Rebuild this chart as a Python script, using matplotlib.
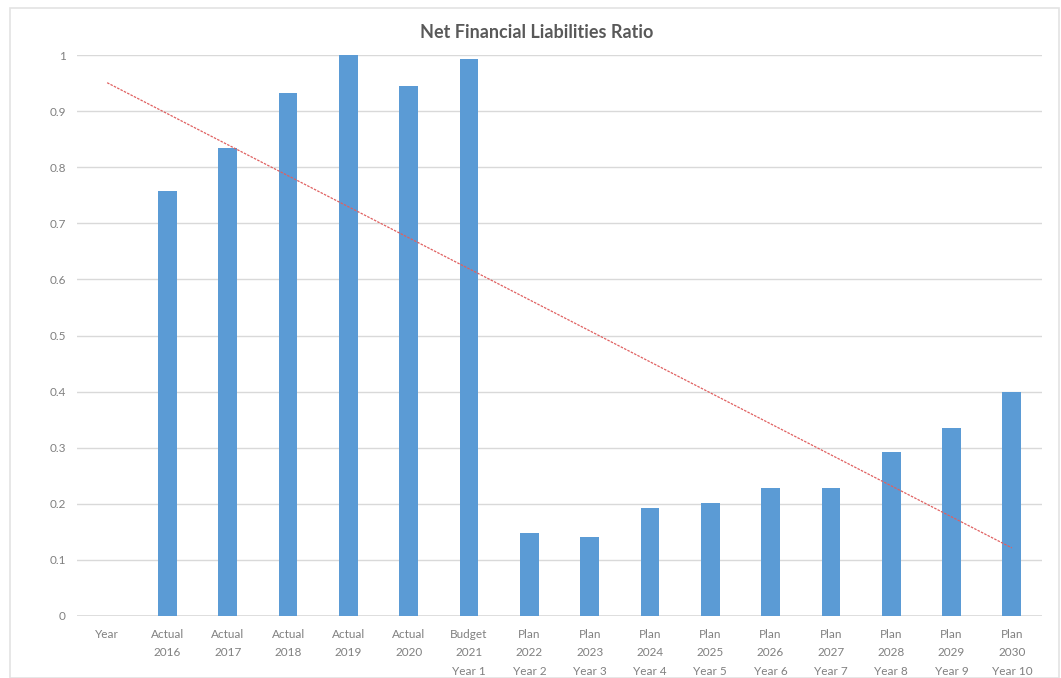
import numpy as np
import matplotlib
matplotlib.use("Agg")
import matplotlib.pyplot as plt
from matplotlib.patches import Rectangle

# ---------------------------------------------------------------------------
# data
# ---------------------------------------------------------------------------
categories = ["Year",
              "Actual\n2016", "Actual\n2017", "Actual\n2018", "Actual\n2019", "Actual\n2020",
              "Budget\n2021\nYear 1",
              "Plan\n2022\nYear 2", "Plan\n2023\nYear 3", "Plan\n2024\nYear 4",
              "Plan\n2025\nYear 5", "Plan\n2026\nYear 6", "Plan\n2027\nYear 7",
              "Plan\n2028\nYear 8", "Plan\n2029\nYear 9", "Plan\n2030\nYear 10"]
ratio = [np.nan, 0.757, 0.835, 0.932, 1.0, 0.945, 0.992,
         0.148, 0.141, 0.192, 0.201, 0.228, 0.228, 0.292, 0.336, 0.399]
y_ticks = [0, 0.1, 0.2, 0.3, 0.4, 0.5, 0.6, 0.7, 0.8, 0.9, 1]

BAR = "#5B9BD5"
GRID = "#d9d9d9"
TXT = "#808080"
FONT = ["Lato", "DejaVu Sans"]

x = np.arange(len(categories))
y = np.array(ratio, dtype=float)

# linear trend over the filled categories, drawn across the whole axis
ok = np.isfinite(y)
slope, icept = np.polyfit(x[ok], y[ok], 1)
trend = slope * x + icept

# ---------------------------------------------------------------------------
# plot
# ---------------------------------------------------------------------------
fig = plt.figure(figsize=(10.61, 6.78), dpi=100)
fig.patches.append(Rectangle((10 / 1061, 0), 1049 / 1061, 1 - 8 / 678,
                             transform=fig.transFigure, fill=False,
                             edgecolor="#e3e3e3", lw=1.2))
ax = fig.add_axes([77 / 1061, 1 - 616 / 678, 965 / 1061, 561 / 678])

ax.bar(x, np.nan_to_num(y), width=0.31, color=BAR, zorder=2)
ax.plot(x, trend, color="#e06060", lw=0.9, ls=(0, (2, 1)), zorder=3)

ax.set_xlim(-0.5, len(categories) - 0.5)
ax.set_ylim(0, 1)
ax.set_yticks(y_ticks)
ax.set_yticklabels([f"{t:g}" for t in y_ticks])
ax.set_xticks(x)
ax.set_xticklabels(categories, linespacing=1.8)
ax.yaxis.grid(True, color=GRID, lw=1, zorder=0)
ax.set_axisbelow(True)
ax.axhline(0, color=GRID, lw=1.2, zorder=1)
for s in ax.spines.values():
    s.set_visible(False)
ax.tick_params(axis="both", length=0, colors=TXT, labelsize=8.5)
ax.tick_params(axis="y", pad=8)
ax.tick_params(axis="x", pad=9.5)
for lab in ax.get_xticklabels() + ax.get_yticklabels():
    lab.set_family(FONT)

fig.text(537 / 1061, 1 - 33 / 678, "Net Financial Liabilities Ratio",
         ha="center", va="center", fontsize=13, color="#595959",
         family=FONT, fontweight="bold")

fig.savefig("out.png", dpi=100, facecolor="white")
plt.close(fig)
